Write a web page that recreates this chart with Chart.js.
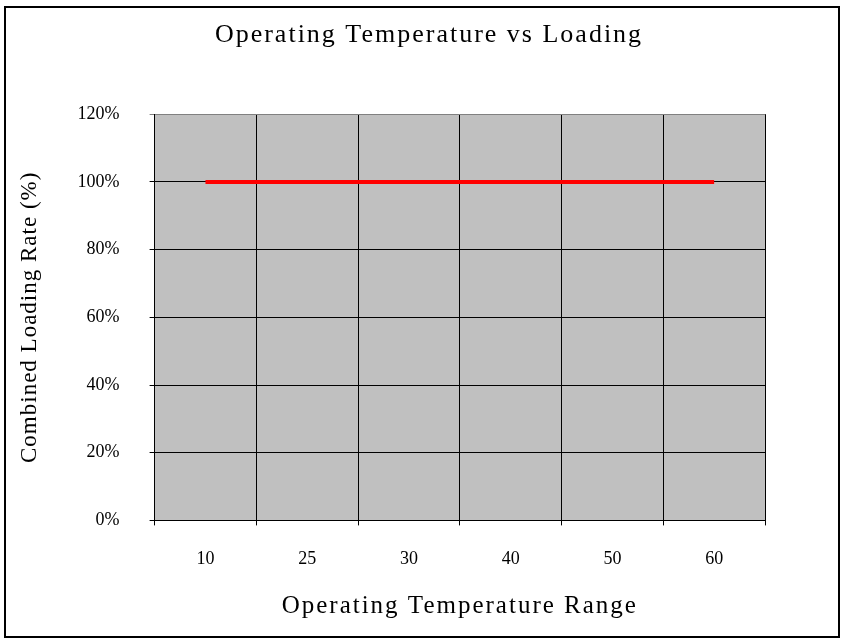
<!DOCTYPE html>
<html>
<head>
<meta charset="utf-8">
<script src="https://cdn.jsdelivr.net/npm/chart.js@4"></script>
<style>
  html, body { margin: 0; padding: 0; background: #fff; }
  #wrap { width: 842px; height: 639px; position: relative; }
</style>
</head>
<body>
<div id="wrap"><canvas id="myChart"></canvas></div>
<script>
// data
const temperatures = ["10", "25", "30", "40", "50", "60"];
const loadingRate = [100, 100, 100, 100, 100, 100];
const yTicks = [0, 20, 40, 60, 80, 100, 120];

const serif = "'Liberation Serif', 'DejaVu Serif', serif";

const ctx = document.getElementById("myChart").getContext("2d");

// the reference titles are drawn with wide letter spacing, the ticks are not
const plainFill = ctx.fillText;
ctx.fillText = function (text, x, y, maxWidth) {
  const m = /(\d+(?:\.\d+)?)px/.exec(this.font);
  const size = m ? parseFloat(m[1]) : 0;
  this.letterSpacing = size >= 24 ? "2px" : size >= 22 ? "1px" : "0px";
  return maxWidth === undefined
    ? plainFill.call(this, text, x, y)
    : plainFill.call(this, text, x, y, maxWidth);
};

// gray plot area + outer frame
const frame = {
  id: "frame",
  beforeDraw(chart) {
    const { ctx, chartArea: a } = chart;
    ctx.save();
    ctx.fillStyle = "#c0c0c0";
    ctx.fillRect(a.left, a.top, a.right - a.left, a.bottom - a.top);
    ctx.restore();
  },
  afterDraw(chart) {
    const ctx = chart.ctx;
    ctx.save();
    ctx.strokeStyle = "#000";
    ctx.lineWidth = 2;
    ctx.strokeRect(5, 7, 834, 630);
    ctx.restore();
  },
};

new Chart(ctx, {
  type: "line",
  data: {
    labels: temperatures,
    datasets: [
      {
        data: loadingRate,
        borderColor: "#ff0000",
        borderWidth: 4,
        pointRadius: 0,
        tension: 0,
      },
    ],
  },
  plugins: [frame],
  options: {
    responsive: true,
    maintainAspectRatio: false,
    animation: false,
    layout: {
      padding: { left: 16, right: 0, top: 16, bottom: 18 },
    },
    scales: {
      x: {
        offset: true,
        border: { color: "#000", width: 1 },
        grid: {
          offset: true,
          color: (c) => (c.index === temperatures.length ? "#808080" : "#000"),
          lineWidth: 1,
          tickLength: 5,
        },
        ticks: {
          padding: 23,
          color: "#000",
          font: { family: serif, size: 18 },
        },
        title: {
          display: true,
          text: "Operating Temperature Range",
          color: "#000",
          font: { family: serif, size: 25 },
          padding: { top: -2, bottom: 0 },
        },
      },
      y: {
        min: 0,
        max: 120,
        afterBuildTicks: (axis) => {
          axis.ticks = yTicks.map((v) => ({ value: v }));
        },
        border: { color: "#000", width: 1 },
        grid: {
          color: (c) => (c.tick && c.tick.value === 120 ? "#808080" : "#000"),
          lineWidth: 1,
          tickLength: 5,
        },
        ticks: {
          padding: 30,
          color: "#000",
          font: { family: serif, size: 18 },
          callback: (v) => v + "%",
        },
        title: {
          display: true,
          text: "Combined Loading Rate (%)",
          color: "#000",
          font: { family: serif, size: 23 },
          padding: { top: 0, bottom: 4 },
        },
      },
      // empty right-hand axis, only keeps the white space right of the plot
      spacer: {
        type: "linear",
        position: "right",
        display: true,
        grid: { display: false },
        border: { display: false },
        ticks: { display: false },
        afterFit: (axis) => {
          axis.width = 77;
        },
      },
    },
    plugins: {
      legend: { display: false },
      tooltip: { enabled: false },
      title: {
        display: true,
        text: "Operating Temperature vs Loading",
        color: "#000",
        font: { family: serif, size: 26, weight: "normal" },
        padding: { top: 4, bottom: 63 },
      },
    },
  },
});
</script>
</body>
</html>
